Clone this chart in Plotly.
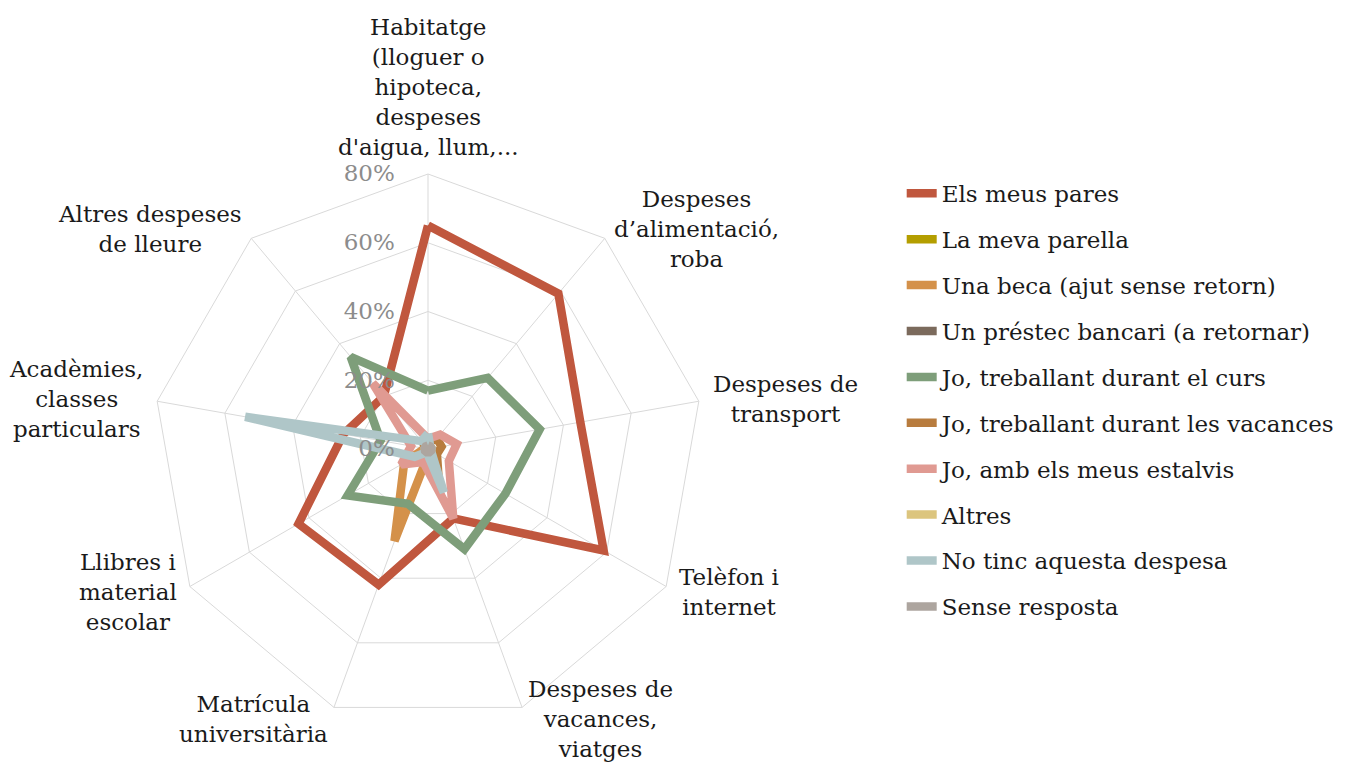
import math
import plotly.graph_objects as go

# Categories (clockwise from top)
categories = [
    "Habitatge<br>(lloguer o<br>hipoteca,<br>despeses<br>d'aigua, llum,...",
    "Despeses<br>d’alimentació,<br>roba",
    "Despeses de<br>transport",
    "Telèfon i<br>internet",
    "Despeses de<br>vacances,<br>viatges",
    "Matrícula<br>universitària",
    "Llibres i<br>material<br>escolar",
    "Acadèmies,<br>classes<br>particulars",
    "Altres despeses<br>de lleure",
]

# Series values (share of respondents)
els_meus_pares = [0.65, 0.59, 0.45, 0.59, 0.215, 0.42, 0.435, 0.25, 0.20]
la_meva_parella = [0.01, 0.01, 0.01, 0.01, 0.01, 0.01, 0.01, 0.01, 0.01]
una_beca = [0.01, 0.01, 0.01, 0.01, 0.01, 0.285, 0.08, 0.01, 0.01]
un_prestec = [0.005, 0.005, 0.005, 0.005, 0.005, 0.005, 0.005, 0.005, 0.005]
treball_curs = [0.17, 0.27, 0.33, 0.26, 0.31, 0.17, 0.27, 0.14, 0.35]
treball_vacances = [0.02, 0.04, 0.04, 0.03, 0.09, 0.02, 0.01, 0.01, 0.02]
estalvis = [0.03, 0.055, 0.085, 0.07, 0.215, 0.04, 0.09, 0.05, 0.25]
altres = [0.01, 0.01, 0.01, 0.01, 0.01, 0.01, 0.01, 0.01, 0.01]
no_tinc = [0.045, 0.01, 0.01, 0.01, 0.135, 0.01, 0.045, 0.54, 0.03]
sense_resposta = [0.01, 0.01, 0.01, 0.01, 0.01, 0.01, 0.01, 0.01, 0.01]

series = [
    ("Els meus pares", els_meus_pares, "#C0573E"),
    ("La meva parella", la_meva_parella, "#B49E00"),
    ("Una beca (ajut sense retorn)", una_beca, "#D4914A"),
    ("Un préstec bancari (a retornar)", un_prestec, "#7B6A5C"),
    ("Jo, treballant durant el curs", treball_curs, "#7E9E7A"),
    ("Jo, treballant durant les vacances", treball_vacances, "#B87C3E"),
    ("Jo, amb els meus estalvis", estalvis, "#E09A92"),
    ("Altres", altres, "#DCC57E"),
    ("No tinc aquesta despesa", no_tinc, "#AFC6C8"),
    ("Sense resposta", sense_resposta, "#ADA59F"),
]

FONT = "DejaVu Serif"
W, H = 1350, 762
CX, CY, R = 420, 441, 275  # polar centre / radius in figure pixels

fig = go.Figure()
for i, (name, vals, color) in enumerate(series):
    fig.add_trace(go.Scatterpolar(
        r=vals + vals[:1],
        theta=categories + categories[:1],
        mode="lines",
        name=name,
        legendgroup=f"g{i}",
        line=dict(color=color, width=8.5),
        hoverinfo="skip",
    ))

# category labels placed Excel-style beside each spoke end
annotations = []
n = len(categories)
for i, label in enumerate(categories):
    ang = math.radians(90 - 360 * i / n)
    c, s = math.cos(ang), math.sin(ang)
    px = CX + (R + 12) * c
    py = (H - CY) + (R + 12) * s
    if abs(c) < 0.1:
        xa, ya = "center", "bottom"
    else:
        xa = "left" if c > 0 else "right"
        ya = "middle"
    annotations.append(dict(
        x=px / W, y=py / H, xref="paper", yref="paper",
        text=label, showarrow=False, xanchor=xa, yanchor=ya, align="center",
        font=dict(family=FONT, size=23, color="#1a1a1a"),
    ))

fig.update_layout(
    width=W,
    height=H,
    paper_bgcolor="white",
    plot_bgcolor="white",
    margin=dict(l=0, r=0, t=0, b=0),
    font=dict(family=FONT, size=23, color="#1a1a1a"),
    annotations=annotations,
    polar=dict(
        domain=dict(x=[(CX - R) / W, (CX + R) / W],
                    y=[(H - CY - R) / H, (H - CY + R) / H]),
        bgcolor="white",
        gridshape="linear",
        radialaxis=dict(
            range=[0, 0.8],
            dtick=0.2,
            tickformat=".0%",
            ticksuffix="\u00a0\u00a0\u00a0\u00a0",
            angle=90,
            tickangle=90,
            side="counterclockwise",
            showline=False,
            ticks="",
            gridcolor="#d9d9d9",
            tickfont=dict(family=FONT, size=23, color="#8c8c8c"),
        ),
        angularaxis=dict(
            rotation=90,
            direction="clockwise",
            gridcolor="#d9d9d9",
            linecolor="#d9d9d9",
            ticks="",
            showticklabels=False,
        ),
    ),
    legend=dict(
        x=0.662,
        y=0.785,
        xanchor="left",
        yanchor="top",
        tracegroupgap=13,
        font=dict(family=FONT, size=23, color="#1a1a1a"),
    ),
)

fig.write_html("out.html")
